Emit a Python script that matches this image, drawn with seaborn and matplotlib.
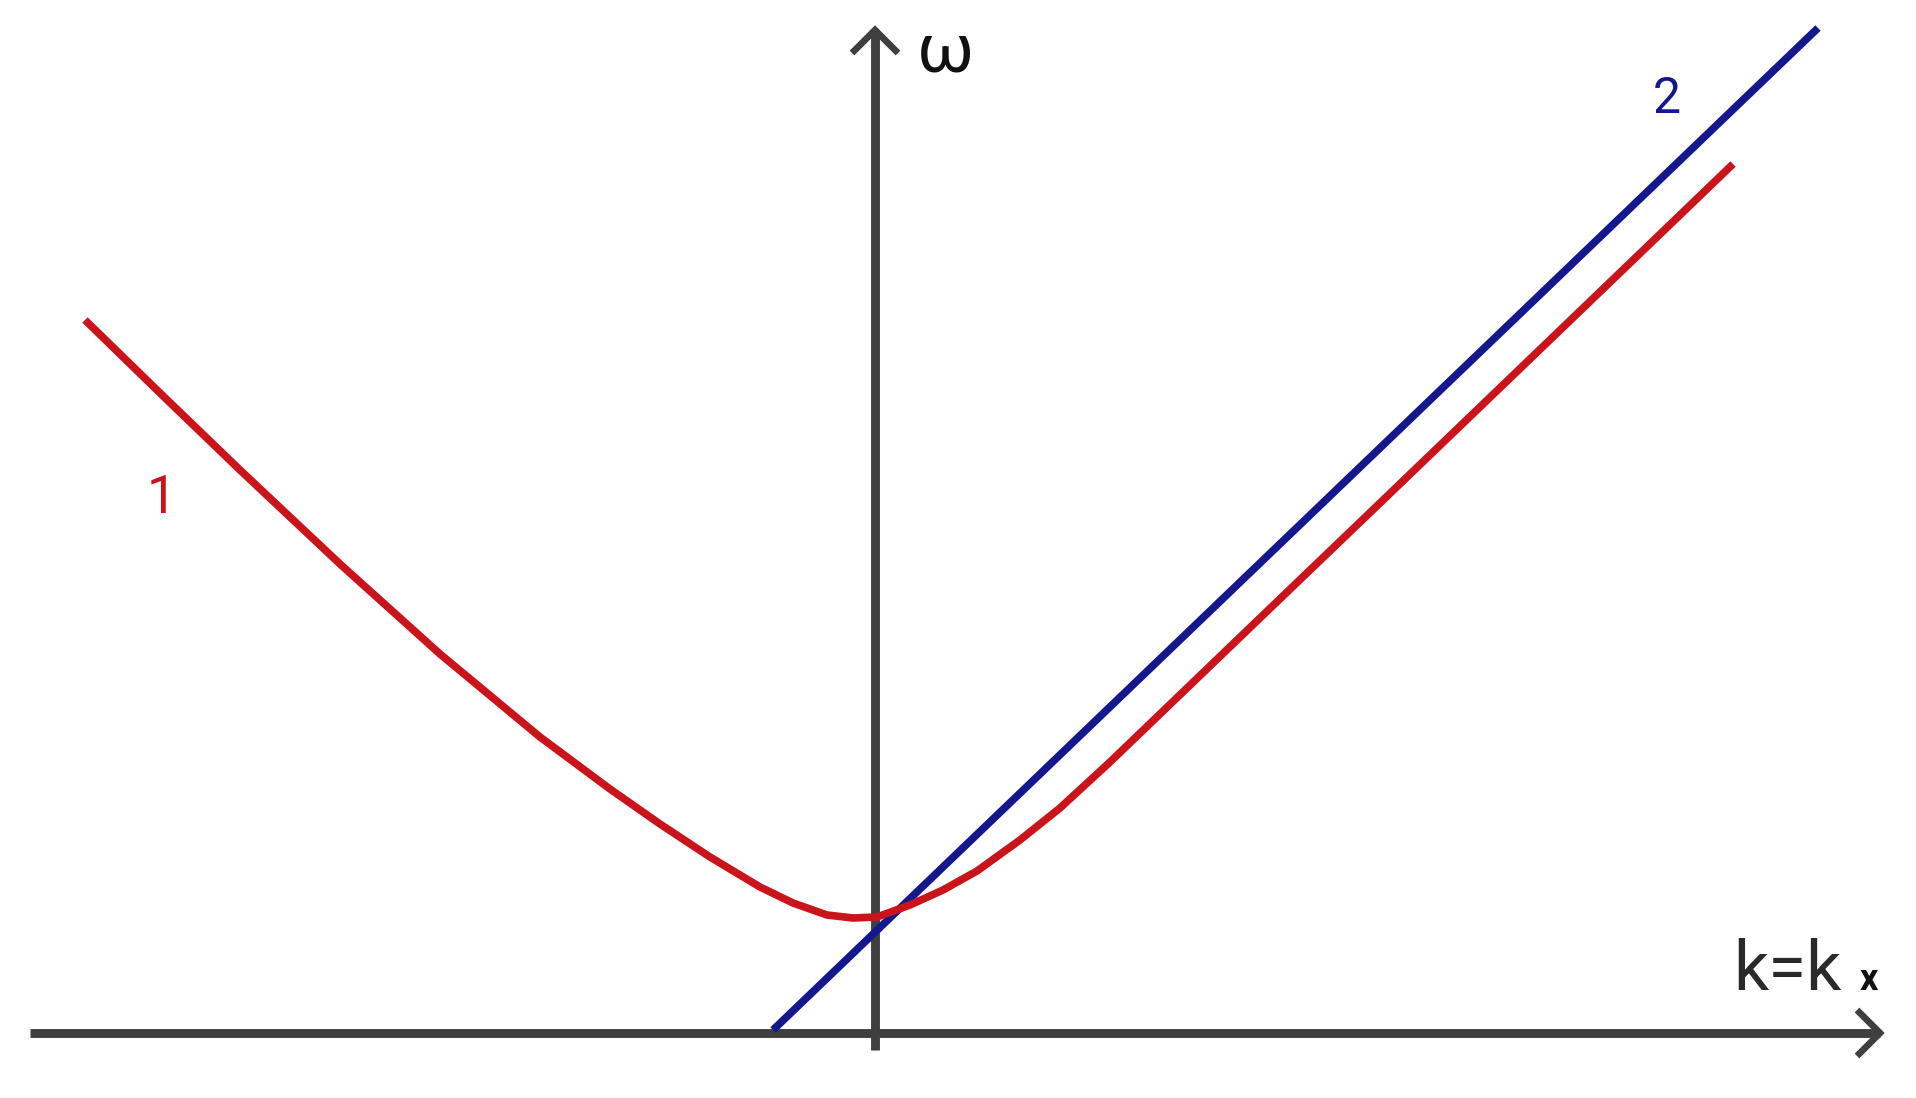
import numpy as np
import pandas as pd
import matplotlib
matplotlib.use("Agg")
import matplotlib.pyplot as plt
import seaborn as sns

# ---- data (k, omega units; origin at the axes crossing) ----
red_k = [-7.90, -7.15, -6.35, -5.35, -4.35, -3.35, -2.65, -2.15, -1.65, -1.15, -0.82,
         -0.48, -0.22, 0.02, 0.35, 0.68, 1.02, 1.45, 1.85, 2.35, 2.85, 3.35, 3.85,
         5.05, 6.05, 7.05, 8.05, 8.58]
red_w = [7.13, 6.40, 5.63, 4.69, 3.79, 2.96, 2.44, 2.09, 1.76, 1.46, 1.30,
         1.18, 1.15, 1.16, 1.28, 1.43, 1.62, 1.93, 2.25, 2.71, 3.19, 3.67, 4.15,
         5.30, 6.26, 7.22, 8.18, 8.69]
blue_k = [-1.02, 9.43]
blue_w = [0.03, 10.05]

x_axis_k = [-8.45, 10.05]
y_axis_w = [-0.17, 10.03]

label_curve1 = "1"
label_curve2 = "2"
label_y = "ω"
label_x_main = "k=k"
label_x_sub = "x"

RED = "#c8141a"
BLUE = "#14188c"
AXC = "#3f3f3f"

sns.set_theme(style="white")
plt.rcParams['font.family'] = ['Roboto', 'DejaVu Sans']

fig = plt.figure(figsize=(19.16, 10.98), dpi=100)
ax = fig.add_axes([0, 0, 1, 1])
ax.set_xlim(-8.75, 10.41)
ax.set_ylim(-0.65, 10.33)
ax.axis('off')

# axes lines
ax.plot(x_axis_k, [0, 0], color=AXC, lw=6.4, solid_capstyle='butt', zorder=1)
ax.plot([0, 0], y_axis_w, color=AXC, lw=6.4, solid_capstyle='butt', zorder=1)
# arrow chevrons
h = 0.23
xe = x_axis_k[1]
ax.plot([xe - h, xe, xe - h], [h, 0, -h], color=AXC, lw=4.8, zorder=1,
        solid_joinstyle='miter', solid_capstyle='butt')
ye = y_axis_w[1]
ax.plot([-h, 0, h], [ye - h, ye, ye - h], color=AXC, lw=4.8, zorder=1,
        solid_joinstyle='miter', solid_capstyle='butt')

df_red = pd.DataFrame({"k": red_k, "w": red_w})
df_blue = pd.DataFrame({"k": blue_k, "w": blue_w})
sns.lineplot(data=df_blue, x="k", y="w", ax=ax, color=BLUE, lw=5.5,
             sort=False, estimator=None, zorder=2)
sns.lineplot(data=df_red, x="k", y="w", ax=ax, color=RED, lw=5.5,
             sort=False, estimator=None, zorder=3)
for ln in ax.lines[-2:]:
    ln.set_solid_joinstyle('round')
    ln.set_solid_capstyle('butt')

# labels
ax.text(0.42, 9.61, label_y, fontsize=50, color="#111111", ha='left', va='baseline')
ax.text(8.58, 0.43, label_x_main, fontsize=50, color="#2a2a2a", ha='left', va='baseline')
ax.text(9.85, 0.43, label_x_sub, fontsize=26, color="#111111", ha='left', va='baseline',
        fontweight='bold')
ax.text(-7.14, 5.20, label_curve1, fontsize=38, color=RED, ha='center', va='baseline')
ax.text(7.92, 9.20, label_curve2, fontsize=36, color=BLUE, ha='center', va='baseline')

fig.savefig("out.png", dpi=100, facecolor="white")
